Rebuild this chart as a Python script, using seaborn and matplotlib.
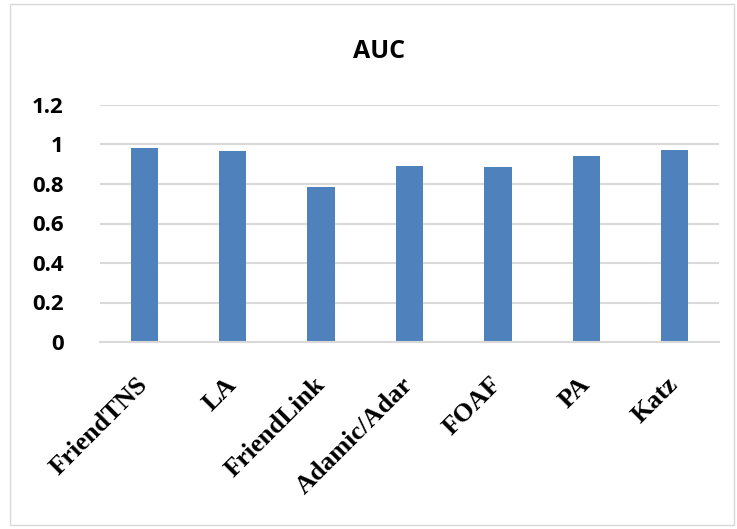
import matplotlib
matplotlib.use("Agg")
import matplotlib.pyplot as plt
import seaborn as sns
import pandas as pd
from matplotlib.patches import Rectangle

# data
methods = ["FriendTNS", "LA", "FriendLink", "Adamic/Adar", "FOAF", "PA", "Katz"]
auc = [0.980, 0.965, 0.784, 0.889, 0.885, 0.941, 0.973]
yticks = [0, 0.2, 0.4, 0.6, 0.8, 1.0, 1.2]
ytick_labels = ["0", "0.2", "0.4", "0.6", "0.8", "1", "1.2"]

df = pd.DataFrame({"method": methods, "auc": auc})

sns.set_theme(style="white")
fig = plt.figure(figsize=(7.37, 5.29), dpi=100)
ax = fig.add_axes([100 / 737, 1 - 342 / 529, (719 - 100) / 737, (342 - 105) / 529])

sns.barplot(data=df, x="method", y="auc", color="#4F81BD", saturation=1,
            width=0.31, ax=ax, edgecolor="none")

ax.set_ylim(0, 1.2)
ax.set_xlim(-0.5, len(methods) - 0.5)
ax.set_yticks(yticks)
ax.set_yticklabels(ytick_labels, fontsize=16, fontweight="bold",
                   family="Open Sans", color="black")
ax.set_xticks(range(len(methods)))
ax.set_xticklabels(methods, rotation=45, ha="right", va="center",
                   rotation_mode="anchor", fontsize=19, fontweight="bold",
                   family="Liberation Serif", color="black")
ax.tick_params(axis="y", length=0, pad=26)
ax.tick_params(axis="x", length=0, pad=28)
ax.set_xlabel("")
ax.set_ylabel("")
ax.yaxis.grid(True, color="#D9D9D9", linewidth=1.5)
ax.set_axisbelow(True)
for s in ["top", "right", "left"]:
    ax.spines[s].set_visible(False)
ax.spines["bottom"].set_color("#D9D9D9")
ax.spines["bottom"].set_linewidth(1.5)

fig.text(379 / 737, 1 - 52 / 529, "AUC", ha="center", va="center",
         fontsize=18, fontweight="bold", family="Open Sans", color="black")

fig.patches.append(Rectangle((10 / 737, 4 / 529), 724 / 737, 521 / 529,
                             transform=fig.transFigure, fill=False,
                             edgecolor="#D9D9D9", linewidth=1))

fig.savefig("out.png", dpi=100)
